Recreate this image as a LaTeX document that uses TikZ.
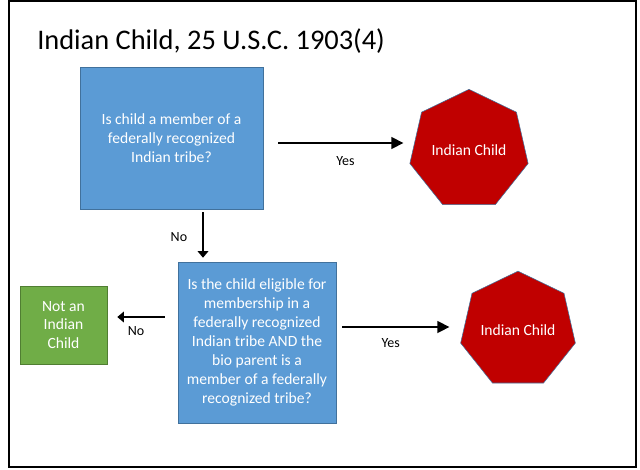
\documentclass[tikz,border=0pt]{standalone}
\usepackage{fontspec}
\setmainfont{Carlito}
\usetikzlibrary{arrows.meta,shapes.geometric}
\definecolor{boxblue}{HTML}{5B9BD5}
\definecolor{boxedge}{HTML}{41719C}
\definecolor{boxgreen}{HTML}{70AD47}
\definecolor{greenedge}{HTML}{507E32}
\definecolor{hepred}{HTML}{C00000}

\begin{document}
\begin{tikzpicture}[x = 0.75pt, y = -0.75pt,
  question/.style = {draw = boxedge, fill = boxblue, text = white, align = center, inner sep = 0pt, font = \fontsize{11.7}{14.2}\selectfont},
  notchild/.style = {draw = greenedge, fill = boxgreen, text = white, align = center, inner sep = 0pt, font = \fontsize{11.7}{14.2}\selectfont},
  ischild/.style = {draw = boxedge, fill = hepred, text = white, regular polygon, regular polygon sides = 7, inner sep = 0pt, font = \fontsize{11.7}{14}\selectfont},
  bigarrow/.style = {-{Triangle[length = 9pt, width = 9pt]}, line width = 1.1pt},
  smallarrow/.style = {-{Triangle[length = 5pt, width = 8pt]}, line width = 1.1pt},
  answer/.style = {font = \fontsize{10.5}{12}\selectfont}]
\useasboundingbox (0,0) rectangle (640,469);
\draw [line width = 1.6pt] (9,1) rectangle (636,467);
\node [anchor = base west, inner sep = 0pt, font = \fontsize{21.3}{25}\selectfont] (title) at (37,49) {Indian Child, 25 U.S.C. 1903(4)};
% the two questions
\node [question, minimum width = 137.25pt, minimum height = 106.5pt] (q1) at (171.5,138) {Is child a member of a\\federally recognized\\Indian tribe?};
\node [question, minimum width = 118.5pt, minimum height = 120.75pt] (q2) at (257,342.5) {Is the child eligible for\\membership in a\\federally recognized\\Indian tribe AND the\\bio parent is a\\member of a federally\\recognized tribe?};
% outcomes
\node [ischild, minimum size = 91pt] (ic1) at (469,150) {Indian Child};
\node [ischild, minimum size = 87pt] (ic2) at (518,330) {Indian Child};
\node [notchild, minimum width = 65.25pt, minimum height = 58.5pt] (nic) at (63.5,325) {Not an\\Indian\\Child};
% arrows
\coordinate (a1) at ([shift = {(15,5)}]q1.east);
\draw [bigarrow, shorten >= 7pt] (a1) -- node [answer, midway, below = 6pt] {Yes} (a1 -| ic1.west);
\coordinate (a2) at ([shift = {(31.5,3)}]q1.south);
\draw [smallarrow, shorten >= 3pt] (a2) -- node [answer, midway, left = 8pt] {No} (a2 |- q2.north);
\coordinate (a3) at ([shift = {(-13,-25.5)}]q2.west);
\draw [smallarrow, shorten >= 7.5pt] (a3) -- node [answer, midway, below = 3pt] {No} (a3 -| nic.east);
\coordinate (a4) at ([shift = {(6,-15.5)}]q2.east);
\draw [bigarrow, shorten >= 10.5pt] (a4) -- node [answer, pos = 0.4, below = 5pt] {Yes} (a4 -| ic2.west);
\end{tikzpicture}
\end{document}
